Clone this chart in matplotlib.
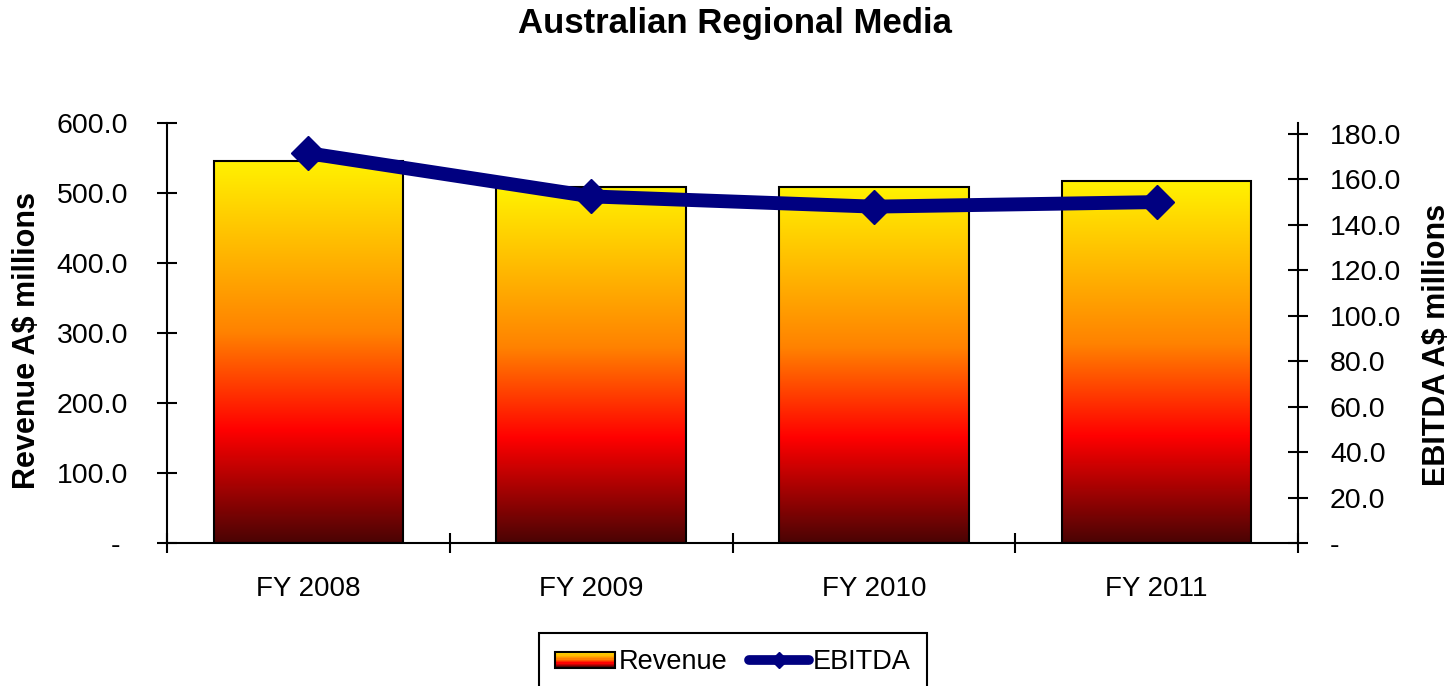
import matplotlib
matplotlib.use("Agg")
import matplotlib.pyplot as plt
import numpy as np
from matplotlib.colors import LinearSegmentedColormap
from matplotlib.patches import Rectangle
from matplotlib.lines import Line2D
from matplotlib.legend_handler import HandlerBase

# data
years = ["FY 2008", "FY 2009", "FY 2010", "FY 2011"]
revenue = [546, 508, 508, 517]
ebitda = [171.5, 152.5, 148.0, 150.0]

plt.rcParams['font.family'] = ['Liberation Sans', 'DejaVu Sans']

grad = LinearSegmentedColormap.from_list(
    "rev", [(0.0, "#4a0404"), (0.295, "#ff0000"), (0.55, "#ff8200"), (1.0, "#fff200")])

fig = plt.figure(figsize=(14.51, 6.86), dpi=100)
ax = fig.add_axes([167/1451, 1-543/686, (1298-167)/1451, (543-123)/686])
ax2 = ax.twinx()

x = np.arange(len(years))
w = 0.67
gvals = np.linspace(0, 1, 256).reshape(-1, 1)
for xi, v in zip(x, revenue):
    ax.imshow(gvals, cmap=grad, origin="lower", aspect="auto",
              extent=[xi - w/2, xi + w/2, 0, v], zorder=2, interpolation="bilinear")
    ax.add_patch(Rectangle((xi - w/2, 0), w, v, facecolor="none",
                           edgecolor="black", linewidth=1.5, zorder=3))

ax.set_xlim(-0.5, 3.5)
ax.set_ylim(0, 600)
ax.set_yticks(np.arange(0, 601, 100))
ax.set_yticklabels(["- "] + [f"{v:.1f}" for v in range(100, 601, 100)])
ax.set_xticks(x)
ax.set_xticklabels(years)
ax.tick_params(axis="x", length=0, labelsize=20, pad=24)
ax.set_xticks(np.arange(-0.5, 4, 1), minor=True)
ax.tick_params(axis="x", which="minor", direction="inout", length=14, width=1.5)
ax.tick_params(axis="y", direction="inout", length=14, width=1.5, labelsize=20.5, pad=21)

ax2.plot(x, ebitda, color="#000080", linewidth=10, marker="D", markersize=17,
         solid_joinstyle="round", zorder=5)
ax2.set_ylim(0, 184.8)
ax2.set_yticks(np.arange(0, 181, 20))
ax2.set_yticklabels(["-"] + [f"{v:.1f}" for v in range(20, 181, 20)])
ax2.tick_params(axis="y", direction="inout", length=14, width=1.5, labelsize=20.5, pad=16)
ax.set_zorder(1)
ax2.set_zorder(2)
ax2.patch.set_visible(False)

for a in (ax, ax2):
    a.spines["top"].set_visible(False)
    for s in ("left", "right", "bottom"):
        a.spines[s].set_linewidth(1.5)
ax.spines["right"].set_visible(False)
ax2.spines["left"].set_visible(False)
ax2.spines["bottom"].set_visible(False)

fig.text(27/1451, 1-340/686, "Revenue A$ millions", rotation=90, ha="center", va="center",
         fontsize=22, fontweight="bold")
fig.text(1437/1451, 1-345/686, "EBITDA A$ millions", rotation=90, ha="center", va="center",
         fontsize=22, fontweight="bold")
fig.text(735/1451, 1-23/686, "Australian Regional Media", ha="center", va="center",
         fontsize=25, fontweight="bold")


class GradHandler(HandlerBase):
    def create_artists(self, legend, orig_handle, xdescent, ydescent, width, height, fontsize, trans):
        arts = []
        n = 12
        for i in range(n):
            r = Rectangle((-xdescent, -ydescent + height * i / n), width, height / n + 0.3,
                          facecolor=grad((i + 0.5) / n), edgecolor="none", transform=trans)
            arts.append(r)
        arts.append(Rectangle((-xdescent, -ydescent), width, height, facecolor="none",
                              edgecolor="black", linewidth=1.5, transform=trans))
        return arts


rev_handle = Rectangle((0, 0), 1, 1)
ebit_handle = Line2D([], [], color="#000080", linewidth=7, marker="D", markersize=8,
                     solid_capstyle="round")
leg = fig.legend([rev_handle, ebit_handle], ["Revenue", "EBITDA"],
                 handler_map={Rectangle: GradHandler()},
                 loc="upper center", bbox_to_anchor=(733/1451, 1-633/686),
                 ncol=2, fontsize=19.5, frameon=True, fancybox=False,
                 edgecolor="black", framealpha=1, handlelength=2.2, handleheight=0.55,
                 handletextpad=0.15, columnspacing=0.8, borderpad=0.6,
                 borderaxespad=0)
leg.get_frame().set_linewidth(1.5)

fig.savefig("out.png", dpi=100)
